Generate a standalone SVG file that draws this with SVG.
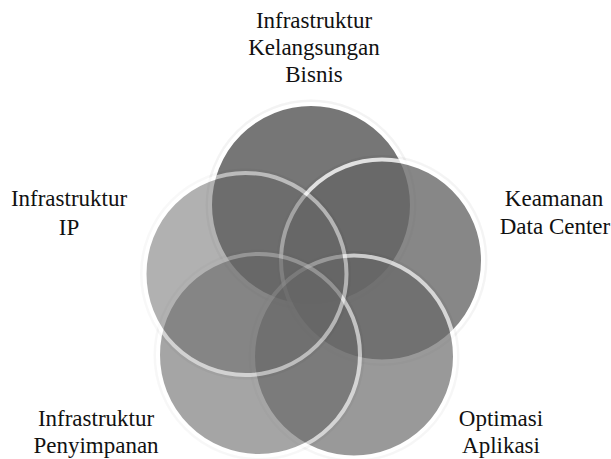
<svg xmlns="http://www.w3.org/2000/svg" width="611" height="459" viewBox="0 0 611 459">
  <style>
    .halo { fill: none; stroke: #000; stroke-opacity: 0.05; stroke-width: 3; }
    .disc { fill: #666; stroke: #fff; stroke-width: 4; }
    .label { font-family: "Liberation Serif", "Times New Roman", serif; font-size: 23px; fill: #111; text-anchor: middle; }
  </style>
  <rect width="611" height="459" fill="#fff"/>

  <!-- Five overlapping discs; each whole disc (fill + white rim) is faded as a unit -->
  <g id="node-bisnis">
    <g opacity="0.89">
      <circle class="halo" cx="311" cy="205" r="104"/>
      <circle class="disc" cx="311" cy="205" r="101"/>
    </g>
    <text class="label" x="314" y="28">Infrastruktur</text>
    <text class="label" x="314" y="55">Kelangsungan</text>
    <text class="label" x="314" y="82">Bisnis</text>
  </g>

  <g id="node-keamanan">
    <g opacity="0.78">
      <circle class="halo" cx="382" cy="260.5" r="104"/>
      <circle class="disc" cx="382" cy="260.5" r="101"/>
    </g>
    <text class="label" x="554" y="206">Keamanan</text>
    <text class="label" x="555" y="234">Data Center</text>
  </g>

  <g id="node-aplikasi">
    <g opacity="0.66">
      <circle class="halo" cx="354" cy="356.5" r="104"/>
      <circle class="disc" cx="354" cy="356.5" r="101"/>
    </g>
    <text class="label" x="501" y="426">Optimasi</text>
    <text class="label" x="501" y="453">Aplikasi</text>
  </g>

  <g id="node-penyimpanan">
    <g opacity="0.58">
      <circle class="halo" cx="259" cy="355" r="104"/>
      <circle class="disc" cx="259" cy="355" r="101"/>
    </g>
    <text class="label" x="96" y="426">Infrastruktur</text>
    <text class="label" x="96" y="453">Penyimpanan</text>
  </g>

  <g id="node-ip">
    <g opacity="0.5">
      <circle class="halo" cx="245.5" cy="274" r="104"/>
      <circle class="disc" cx="245.5" cy="274" r="101"/>
    </g>
    <text class="label" x="69" y="206">Infrastruktur</text>
    <text class="label" x="69" y="235">IP</text>
  </g>

  <!-- no connectors in this diagram -->
  <g id="connectors"/>
</svg>
